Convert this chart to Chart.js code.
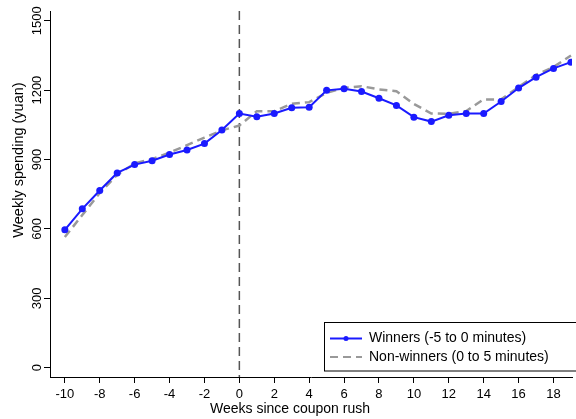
<!DOCTYPE html>
<html>
<head>
<meta charset="utf-8">
<script src="https://cdn.jsdelivr.net/npm/chart.js@4/dist/chart.umd.min.js"></script>
<style>
    html, body { margin: 0; padding: 0; background: #fff; }
    #wrap { width: 576px; height: 419px; }
</style>
</head>
<body>
<div id="wrap"><canvas id="chart"></canvas></div>
<script>
// Data
const weeks = [-10, -9, -8, -7, -6, -5, -4, -3, -2, -1, 0, 1, 2, 3, 4, 5, 6, 7, 8, 9, 10, 11, 12, 13, 14, 15, 16, 17, 18, 19];
const winners = [596, 687, 766, 842, 878, 895, 922, 941, 969, 1028, 1099, 1085, 1099, 1124, 1126, 1199, 1206, 1194, 1165, 1134, 1083, 1064, 1091, 1099, 1099, 1151, 1209, 1256, 1294, 1321];
const nonWinners = [565, 660, 755, 834, 883, 902, 930, 962, 995, 1026, 1047, 1109, 1109, 1141, 1148, 1188, 1210, 1217, 1203, 1195, 1140, 1099, 1098, 1110, 1160, 1160, 1213, 1266, 1300, 1350];
const xTicks = [-10, -8, -6, -4, -2, 0, 2, 4, 6, 8, 10, 12, 14, 16, 18];
const yTicks = [0, 300, 600, 900, 1200, 1500];
const seriesNames = ['Winners (-5 to 0 minutes)', 'Non-winners (0 to 5 minutes)'];

const FONT = '"Liberation Sans", Arial, sans-serif';
const BLUE = '#1a1aff';
const GREY = '#999999';

// event line, rotated y labels, axis titles and the boxed legend
const extras = {
    id: 'extras',
    beforeDatasetsDraw(chart) {
        const { ctx, chartArea, scales } = chart;
        const x0 = scales.x.getPixelForValue(0);
        ctx.save();
        ctx.strokeStyle = '#555';
        ctx.lineWidth = 1.5;
        ctx.setLineDash([9, 5]);
        ctx.beginPath();
        ctx.moveTo(x0, chartArea.top);
        ctx.lineTo(x0, chartArea.bottom);
        ctx.stroke();
        ctx.restore();
    },
    afterDraw(chart) {
        const { ctx, scales } = chart;
        ctx.save();
        ctx.fillStyle = '#000';
        ctx.font = '13px ' + FONT;
        ctx.textAlign = 'center';
        ctx.textBaseline = 'middle';
        yTicks.forEach(v => {
            const y = scales.y.getPixelForValue(v);
            ctx.save();
            ctx.translate(37, y);
            ctx.rotate(-Math.PI / 2);
            ctx.fillText(String(v), 0, 0);
            ctx.restore();
        });
        ctx.font = '14.5px ' + FONT;
        ctx.save();
        ctx.translate(19, 160);
        ctx.rotate(-Math.PI / 2);
        ctx.fillText('Weekly spending (yuan)', 0, 0);
        ctx.restore();
        ctx.font = '14px ' + FONT;
        ctx.fillText('Weeks since coupon rush', 290, 409);

        // legend
        const bx = 324.5, by = 322.5, bw = 260, bh = 48.5;
        ctx.fillStyle = '#fff';
        ctx.fillRect(bx, by, bw, bh);
        ctx.strokeStyle = '#000';
        ctx.lineWidth = 1;
        ctx.strokeRect(bx, by, bw, bh);
        const rows = [338.5, 357];
        chart.data.datasets.forEach((ds, i) => {
            const y = rows[i];
            ctx.save();
            ctx.strokeStyle = ds.borderColor;
            ctx.lineWidth = 2;
            ctx.setLineDash(ds.borderDash || []);
            ctx.beginPath();
            ctx.moveTo(330, y);
            ctx.lineTo(362, y);
            ctx.stroke();
            if (ds.pointRadius > 0) {
                ctx.fillStyle = ds.pointBackgroundColor;
                ctx.beginPath();
                ctx.arc(346, y, 2.5, 0, Math.PI * 2);
                ctx.fill();
            }
            ctx.restore();
            ctx.fillStyle = '#000';
            ctx.font = '14px ' + FONT;
            ctx.textAlign = 'left';
            ctx.fillText(ds.label, 369, y);
        });
        ctx.restore();
    }
};

new Chart(document.getElementById('chart'), {
    type: 'line',
    data: {
        labels: weeks,
        datasets: [
            {
                label: seriesNames[0],
                data: weeks.map((w, i) => ({ x: w, y: winners[i] })),
                borderColor: BLUE,
                backgroundColor: BLUE,
                pointBackgroundColor: BLUE,
                pointBorderWidth: 0,
                pointRadius: 3.5,
                borderWidth: 2,
                tension: 0,
                order: 1
            },
            {
                label: seriesNames[1],
                data: weeks.map((w, i) => ({ x: w, y: nonWinners[i] })),
                borderColor: GREY,
                backgroundColor: GREY,
                borderDash: [8, 5],
                borderWidth: 2.5,
                pointRadius: 0,
                tension: 0,
                order: 2
            }
        ]
    },
    options: {
        responsive: true,
        maintainAspectRatio: false,
        animation: false,
        layout: { padding: { top: 11, right: 0, left: 0, bottom: 0 } },
        plugins: {
            legend: { display: false },
            tooltip: { enabled: false }
        },
        scales: {
            x: {
                type: 'linear',
                min: -10.85,
                max: 19.06,
                afterBuildTicks: scale => { scale.ticks = xTicks.map(v => ({ value: v })); },
                afterFit: scale => { scale.height = 42; },
                grid: { drawOnChartArea: false, tickLength: 6, color: '#000' },
                border: { color: '#000', width: 1 },
                ticks: {
                    color: '#000',
                    padding: 4,
                    maxRotation: 0,
                    autoSkip: false,
                    font: { family: FONT, size: 13 }
                }
            },
            y: {
                min: -40,
                max: 1542,
                afterBuildTicks: scale => { scale.ticks = yTicks.map(v => ({ value: v })); },
                afterFit: scale => { scale.width = 50; },
                grid: { drawOnChartArea: false, tickLength: 6, color: '#000' },
                border: { color: '#000', width: 1 },
                ticks: { display: false }
            }
        }
    },
    plugins: [extras]
});
</script>
</body>
</html>
